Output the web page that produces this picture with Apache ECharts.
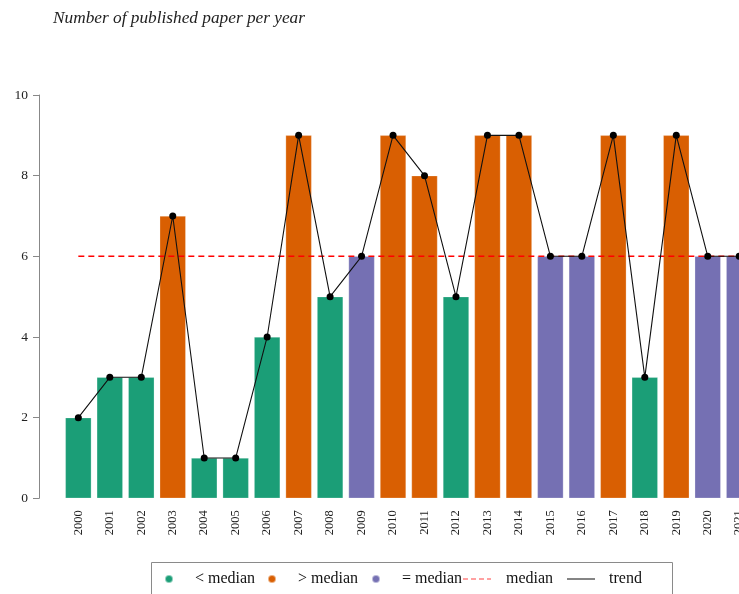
<!DOCTYPE html>
<html>
<head>
<meta charset="utf-8">
<script src="https://cdn.jsdelivr.net/npm/echarts@6/dist/echarts.min.js"></script>
<style>
html,body{margin:0;padding:0;background:#fff;}
#chart{width:739px;height:594px;}
</style>
</head>
<body>
<div id="chart"></div>
<script>
// ---- data ----
var years = ['2000','2001','2002','2003','2004','2005','2006','2007','2008','2009','2010',
             '2011','2012','2013','2014','2015','2016','2017','2018','2019','2020','2021'];
var papers = [2,3,3,7,1,1,4,9,5,6,9,8,5,9,9,6,6,9,3,9,6,6];
var medianValue = 6;
var yTicks = [0,2,4,6,8,10];
var legendLabels = ['< median', '> median', '= median', 'median', 'trend'];

// ---- derived series ----
var below = papers.map(function(v){ return v < medianValue ? v : '-'; });
var above = papers.map(function(v){ return v > medianValue ? v : '-'; });
var equal = papers.map(function(v){ return v === medianValue ? v : '-'; });
var medianLine = papers.map(function(){ return medianValue; });

var GREEN = '#1B9E77', ORANGE = '#D95F02', PURPLE = '#7570B3';
var SERIF = '"Liberation Serif", "DejaVu Serif", serif';

var band = 31.47;
var gridLeft = 62.6;

var chart = echarts.init(document.getElementById('chart'));

function legendItem(name, left, icon, w, h, pad, color) {
  return {
    show: true,
    orient: 'horizontal',
    left: left,
    top: 571,
    padding: 0,
    itemWidth: w,
    itemHeight: h,
    selectedMode: false,
    data: [{ name: name, icon: icon, itemStyle: { color: color } }],
    textStyle: { fontFamily: SERIF, fontSize: 16, color: '#111', padding: [0, 0, 0, pad] }
  };
}

var option = {
  animation: false,
  backgroundColor: '#ffffff',
  title: {
    text: 'Number of published paper per year',
    left: 48,
    top: 5,
    textStyle: { fontFamily: SERIF, fontStyle: 'italic', fontWeight: 'normal', fontSize: 17.3, color: '#222' }
  },
  grid: {
    left: gridLeft,
    top: 95,
    width: band * years.length,
    height: 403.3,
    containLabel: false,
    outerBoundsMode: 'none'
  },
  legend: [
    legendItem(legendLabels[0], 164, 'circle', 8, 8, 17, GREEN),
    legendItem(legendLabels[1], 267, 'circle', 8, 8, 17, ORANGE),
    legendItem(legendLabels[2], 371, 'circle', 8, 8, 17, PURPLE),
    legendItem(legendLabels[3], 463, 'path://M0,0h5v1h-5z M8,0h5v1h-5z M16,0h5v1h-5z M24,0h4v1h-4z', 28, 1.3, 10, '#FF4444'),
    legendItem(legendLabels[4], 567, 'rect', 28, 1.2, 9, '#333')
  ],
  xAxis: {
    type: 'category',
    data: years,
    boundaryGap: true,
    axisLine: { show: false },
    axisTick: { show: false },
    axisLabel: {
      rotate: 90,
      margin: 12,
      interval: 0,
      fontFamily: SERIF,
      fontSize: 12.5,
      color: '#222'
    },
    splitLine: { show: false }
  },
  yAxis: {
    type: 'value',
    min: 0,
    max: 10,
    interval: 2,
    offset: gridLeft - 39,
    axisLine: { show: true, lineStyle: { color: '#888', width: 1 } },
    axisTick: { show: true, length: 6, lineStyle: { color: '#888' } },
    axisLabel: {
      margin: 11,
      fontFamily: SERIF,
      fontSize: 13.5,
      color: '#222',
      formatter: function(v){ return yTicks.indexOf(v) >= 0 ? String(v) : ''; }
    },
    splitLine: { show: false }
  },
  series: [
    { name: legendLabels[0], type: 'bar', stack: 'p', data: below, barWidth: 26,
      itemStyle: { color: GREEN, borderColor: 'rgba(255,255,255,0.5)', borderWidth: 0.5 }, z: 2 },
    { name: legendLabels[1], type: 'bar', stack: 'p', data: above, barWidth: 26,
      itemStyle: { color: ORANGE, borderColor: 'rgba(255,255,255,0.5)', borderWidth: 0.5 }, z: 2 },
    { name: legendLabels[2], type: 'bar', stack: 'p', data: equal, barWidth: 26,
      itemStyle: { color: PURPLE, borderColor: 'rgba(255,255,255,0.5)', borderWidth: 0.5 }, z: 2 },
    { name: legendLabels[3], type: 'line', data: medianLine, symbol: 'none', z: 3,
      lineStyle: { color: '#FF0000', width: 1.6, type: [6, 4] },
      itemStyle: { color: '#FF0000' } },
    { name: legendLabels[4], type: 'line', data: papers, symbol: 'circle', symbolSize: 7, z: 4,
      lineStyle: { color: '#111', width: 1.1 },
      itemStyle: { color: '#000' } }
  ],
  graphic: [
    { type: 'rect', left: 149, top: 560, shape: { width: 521, height: 60 },
      style: { fill: 'none', stroke: '#8a8a8a', lineWidth: 1 }, silent: true }
  ]
};

chart.setOption(option);
</script>
</body>
</html>
